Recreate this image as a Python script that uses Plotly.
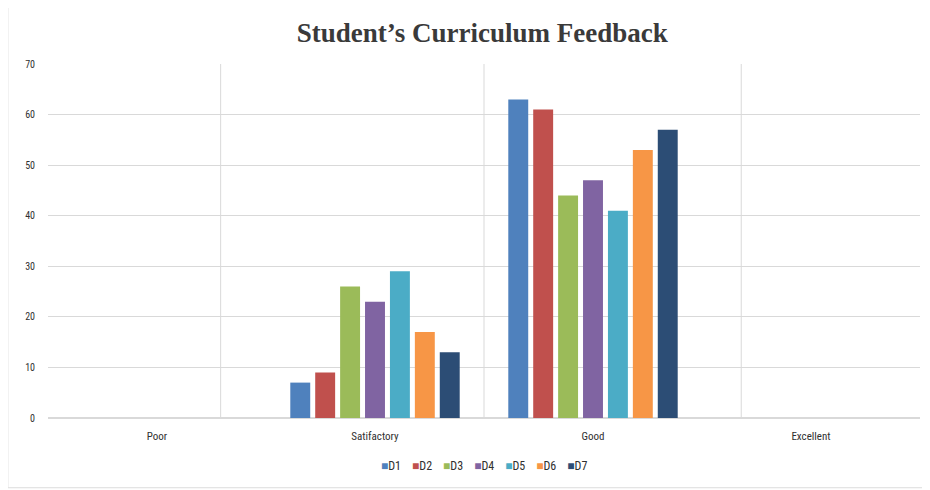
import plotly.graph_objects as go

categories = ["Poor", "Satifactory", "Good", "Excellent"]
series_names = ["D1", "D2", "D3", "D4", "D5", "D6", "D7"]
d1 = [None, 7, 63, None]
d2 = [None, 9, 61, None]
d3 = [None, 26, 44, None]
d4 = [None, 23, 47, None]
d5 = [None, 29, 41, None]
d6 = [None, 17, 53, None]
d7 = [None, 13, 57, None]
series_values = [d1, d2, d3, d4, d5, d6, d7]
colors = ["#4F81BD", "#C0504D", "#9BBB59", "#8064A2", "#4BACC6", "#F79646", "#2C4D75"]
y_ticks = [0, 10, 20, 30, 40, 50, 60, 70]

NARROW = '"Liberation Sans Narrow", "Roboto Condensed", "Liberation Sans", sans-serif'

fig = go.Figure()
for name, vals, col in zip(series_names, series_values, colors):
    fig.add_trace(go.Bar(name=name, x=categories, y=vals, marker_color=col,
                         marker_line_width=0, showlegend=False))

# vertical separator lines as in the original
shapes = [dict(type="line", xref="paper", yref="paper", x0=xp, x1=xp, y0=0, y1=1,
               line=dict(color="#d9d9d9", width=1), layer="below")
          for xp in [0.198, 0.5, 0.795]]
# outer chart border
shapes.append(dict(type="rect", xref="paper", yref="paper", x0=-0.046, x1=1.03,
                   y0=-0.197, y1=1.17, line=dict(color="#dcdcdc", width=1)))

# legend drawn as a single line of coloured squares
legend_text = "&nbsp;&nbsp;&nbsp;&nbsp;".join(
    f"<span style='color:{c};'>■</span>{n}" for n, c in zip(series_names, colors))

fig.update_layout(
    width=930, height=490,
    margin=dict(l=40, r=18, t=56, b=80),
    paper_bgcolor="white", plot_bgcolor="white",
    barmode="group", bargap=0.2, bargroupgap=0.2,
    title=dict(text="<b>Student’s Curriculum Feedback</b>", x=0.51, xanchor="center",
               y=0.95, yanchor="middle",
               font=dict(family='"Liberation Serif", "DejaVu Serif", serif', size=27, color="#3a3a3a")),
    xaxis=dict(showgrid=False, showline=False, ticks="", ticklabelstandoff=10,
               tickfont=dict(family=NARROW, size=11, color="#303030")),
    yaxis=dict(range=[0, 70], tickvals=y_ticks, showgrid=True, gridcolor="#d9d9d9",
               gridwidth=1, zeroline=True, zerolinecolor="#d9d9d9", ticks="",
               ticklabelstandoff=12,
               tickfont=dict(family=NARROW, size=10, color="#303030")),
    showlegend=False,
    annotations=[dict(x=0.5, y=-0.135, xref="paper", yref="paper", xanchor="center",
                      yanchor="middle", showarrow=False, text=legend_text,
                      font=dict(family=NARROW, size=12, color="#303030"))],
    shapes=shapes,
)

fig.write_html("out.html")
